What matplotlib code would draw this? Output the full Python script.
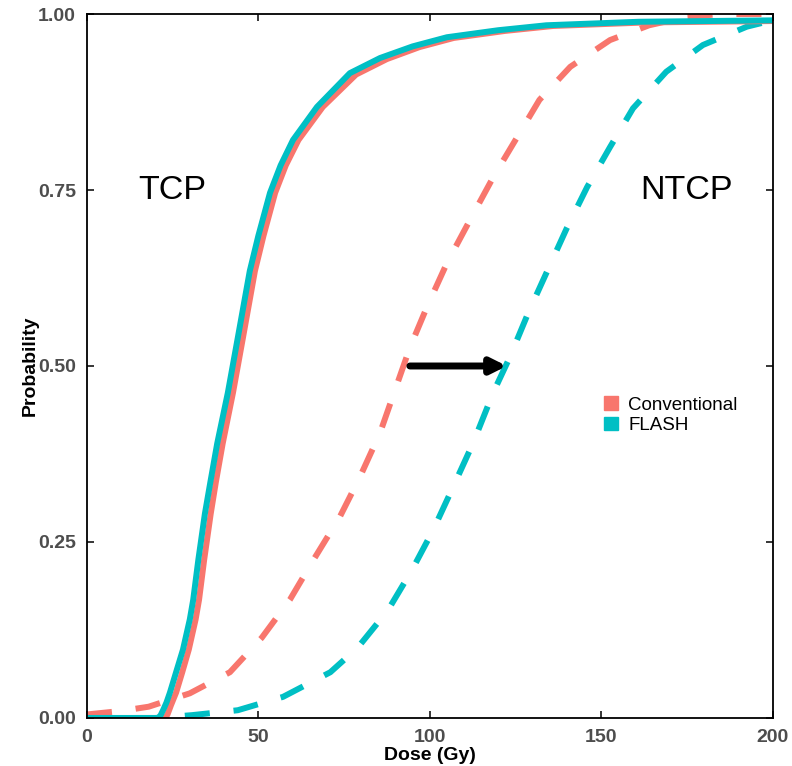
import matplotlib.pyplot as plt
from matplotlib.patches import Patch

# values
tcp_conv_dose = [0, 22.8, 23.5, 24.5, 26, 27.8, 29.7, 31.7, 32.7, 34.2, 36.1, 37.6, 39.6,
                 42.6, 45.5, 49, 51.5, 54.9, 58, 61.7, 68.8, 78.5, 87.5, 97, 107, 122,
                 136, 163, 200]
tcp_conv_prob = [0, 0, 0.005, 0.018, 0.036, 0.065, 0.097, 0.14, 0.168, 0.225, 0.29, 0.335,
                 0.39, 0.462, 0.54, 0.635, 0.685, 0.746, 0.785, 0.821, 0.868, 0.914, 0.936,
                 0.953, 0.966, 0.976, 0.983, 0.988, 0.99]

tcp_flash_dose = [0, 20.8, 21.5, 22.3, 23.2, 24.2, 26, 28, 30, 31, 32.5, 34.4, 36, 38,
                  41.1, 44, 47.5, 50, 53.4, 56.5, 60.1, 67.1, 76.7, 85.5, 95, 105, 120,
                  134, 161, 200]
tcp_flash_prob = [0, 0, 0.004, 0.012, 0.022, 0.036, 0.065, 0.097, 0.14, 0.168, 0.225, 0.29,
                  0.335, 0.39, 0.462, 0.54, 0.635, 0.685, 0.746, 0.785, 0.821, 0.868, 0.916,
                  0.9375, 0.954, 0.967, 0.977, 0.984, 0.989, 0.991]

ntcp_conv_dose = [0, 10, 18, 30, 41.7, 51, 59.2, 66, 73.8, 79.6, 85.5, 94.2, 99.2, 105,
                  111.7, 118.5, 125.5, 132, 141, 152.6, 164, 175, 185, 200]
ntcp_conv_prob = [0.005, 0.01, 0.016, 0.035, 0.065, 0.114, 0.168, 0.224, 0.286, 0.342, 0.405,
                  0.526, 0.584, 0.646, 0.707, 0.768, 0.825, 0.878, 0.925, 0.963, 0.984,
                  0.996, 1.0, 1.0]

ntcp_flash_dose = [0, 20, 30.6, 44, 57.2, 71, 79, 87.8, 94.8, 101, 106.8, 112.6, 118.5,
                   123.4, 128.7, 134.2, 140, 145.9, 152.6, 159.3, 169, 179.7, 192.5, 200]
ntcp_flash_prob = [0, 0, 0.004, 0.011, 0.03, 0.065, 0.10, 0.153, 0.21, 0.267, 0.328, 0.39,
                   0.462, 0.513, 0.575, 0.634, 0.696, 0.754, 0.811, 0.866, 0.918, 0.956,
                   0.982, 0.991]

arrow_from = 94.2
arrow_to = 122.5
arrow_prob = 0.5

red = '#F8766D'
cyan = '#00BFC4'

plt.rcParams['font.family'] = ['Liberation Sans', 'DejaVu Sans']

fig = plt.figure(figsize=(7.92, 7.66), dpi=100)
ax = fig.add_axes([0.1098, 0.0627, 0.8656, 0.919])

lw = 4.3
ax.plot(ntcp_conv_dose, ntcp_conv_prob, color=red, lw=lw, dashes=(4.2, 4),
        dash_capstyle='butt')
ax.plot(ntcp_flash_dose, ntcp_flash_prob, color=cyan, lw=lw, dashes=(4.2, 4),
        dash_capstyle='butt')
ax.plot(tcp_conv_dose, tcp_conv_prob, color=red, lw=lw, solid_capstyle='butt')
ax.plot(tcp_flash_dose, tcp_flash_prob, color=cyan, lw=lw, solid_capstyle='butt')

ax.annotate('', xy=(arrow_to, arrow_prob), xytext=(arrow_from, arrow_prob),
            arrowprops=dict(arrowstyle='-|>,head_length=0.9,head_width=0.45',
                            color='black', lw=5, shrinkA=0, shrinkB=0))

ax.text(24.8, 0.75, 'TCP', fontsize=24.5, ha='center', va='center')
ax.text(175, 0.75, 'NTCP', fontsize=24.5, ha='center', va='center')

handles = [Patch(color=red, label='Conventional'), Patch(color=cyan, label='FLASH')]
ax.legend(handles=handles, loc='center left', bbox_to_anchor=(0.74, 0.43),
          frameon=False, fontsize=13.5, handlelength=0.75, handleheight=0.75,
          handletextpad=0.55, labelspacing=0.15, borderpad=0)

ax.set_xlim(0, 200)
ax.set_ylim(0, 1)
ax.set_xticks([0, 50, 100, 150, 200])
ax.set_yticks([0, 0.25, 0.5, 0.75, 1.0])
ax.set_yticklabels(['0.00', '0.25', '0.50', '0.75', '1.00'])
ax.tick_params(direction='in', length=5, width=1.1, top=True, right=True,
               labelsize=14, labelcolor='#4D4D4D')
ax.tick_params(axis='x', pad=8)
ax.tick_params(axis='y', pad=8)
for lab in ax.get_xticklabels() + ax.get_yticklabels():
    lab.set_fontweight('bold')
for s in ax.spines.values():
    s.set_linewidth(1.3)
    s.set_color('black')

ax.set_xlabel('Dose (Gy)', fontsize=14, fontweight='bold', labelpad=1)
ax.set_ylabel('Probability', fontsize=14, fontweight='bold', labelpad=-0.5)

fig.savefig('out.png', dpi=100)
